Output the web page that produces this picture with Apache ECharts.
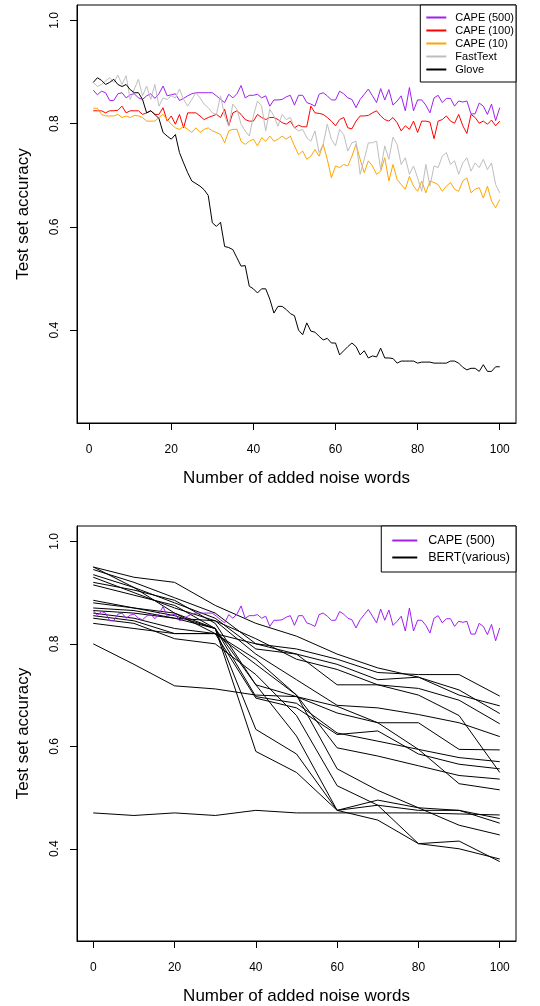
<!DOCTYPE html>
<html>
<head>
<meta charset="utf-8">
<title>Noise words vs accuracy</title>
<script src="https://cdn.jsdelivr.net/npm/echarts@6/dist/echarts.min.js"></script>
<style>
  html, body { margin: 0; padding: 0; background: #fff; }
  #chart { width: 540px; height: 1006px; }
</style>
</head>
<body>
<div id="chart"></div>
<script>
// ---- data ----
const xTicks = [0, 20, 40, 60, 80, 100];
const yTicks = [0.4, 0.6, 0.8, 1.0];
const bertNoise = [0, 10, 20, 30, 40, 50, 60, 70, 80, 90, 100];

const cape500 = [
  0.865,0.856,0.863,0.860,0.845,0.845,0.858,0.860,0.850,0.856,
  0.858,0.850,0.847,0.854,0.858,0.849,0.858,0.873,0.854,0.856,
  0.858,0.845,0.849,0.854,0.858,0.860,0.860,0.860,0.860,0.860,
  0.854,0.847,0.841,0.857,0.850,0.858,0.874,0.850,0.855,0.855,
  0.857,0.850,0.854,0.834,0.846,0.846,0.847,0.852,0.855,0.836,
  0.855,0.855,0.841,0.838,0.834,0.857,0.860,0.854,0.846,0.846,
  0.863,0.858,0.850,0.847,0.831,0.847,0.857,0.867,0.854,0.841,
  0.868,0.846,0.866,0.836,0.844,0.854,0.825,0.870,0.825,0.846,
  0.846,0.836,0.821,0.850,0.855,0.841,0.849,0.849,0.834,0.844,
  0.842,0.844,0.819,0.819,0.840,0.834,0.818,0.838,0.806,0.831
];
const cape100 = [
  0.825,0.825,0.825,0.821,0.825,0.825,0.826,0.834,0.821,0.825,
  0.825,0.825,0.818,0.821,0.825,0.818,0.818,0.831,0.805,0.815,
  0.799,0.818,0.792,0.821,0.821,0.821,0.815,0.808,0.812,0.815,
  0.818,0.812,0.828,0.796,0.821,0.825,0.818,0.808,0.805,0.805,
  0.818,0.812,0.808,0.812,0.812,0.808,0.802,0.799,0.805,0.792,
  0.797,0.794,0.794,0.834,0.821,0.820,0.818,0.812,0.805,0.796,
  0.808,0.812,0.792,0.790,0.805,0.815,0.815,0.816,0.821,0.825,
  0.815,0.808,0.805,0.812,0.802,0.786,0.796,0.789,0.805,0.783,
  0.805,0.805,0.803,0.771,0.805,0.808,0.815,0.805,0.801,0.818,
  0.796,0.781,0.818,0.812,0.801,0.805,0.799,0.807,0.796,0.805
];
const cape10 = [
  0.830,0.830,0.818,0.815,0.815,0.815,0.818,0.812,0.815,0.812,
  0.816,0.815,0.812,0.805,0.805,0.805,0.812,0.818,0.808,0.799,
  0.792,0.789,0.795,0.789,0.783,0.792,0.783,0.789,0.792,0.786,
  0.783,0.779,0.763,0.786,0.789,0.789,0.766,0.760,0.766,0.770,
  0.757,0.773,0.766,0.776,0.766,0.770,0.776,0.770,0.776,0.757,
  0.740,0.747,0.731,0.737,0.750,0.737,0.760,0.731,0.695,0.718,
  0.715,0.721,0.718,0.737,0.760,0.731,0.705,0.728,0.718,0.702,
  0.708,0.734,0.689,0.721,0.692,0.682,0.673,0.698,0.679,0.669,
  0.689,0.666,0.689,0.686,0.682,0.669,0.679,0.686,0.673,0.669,
  0.689,0.695,0.666,0.673,0.676,0.656,0.679,0.650,0.637,0.653
];
const fastText = [
  0.880,0.872,0.876,0.883,0.889,0.880,0.894,0.876,0.893,0.847,
  0.867,0.886,0.854,0.873,0.847,0.876,0.834,0.850,0.847,0.854,
  0.850,0.867,0.847,0.834,0.847,0.860,0.850,0.838,0.831,0.821,
  0.818,0.854,0.815,0.795,0.838,0.828,0.799,0.786,0.776,0.815,
  0.844,0.834,0.786,0.828,0.815,0.795,0.818,0.808,0.812,0.792,
  0.786,0.789,0.773,0.766,0.786,0.744,0.760,0.799,0.770,0.757,
  0.789,0.779,0.747,0.763,0.766,0.702,0.731,0.763,0.763,0.766,
  0.711,0.757,0.731,0.774,0.760,0.721,0.734,0.702,0.718,0.695,
  0.669,0.721,0.679,0.718,0.715,0.737,0.744,0.721,0.728,0.702,
  0.724,0.734,0.708,0.724,0.715,0.731,0.711,0.724,0.682,0.666
];
const glove = [
  0.880,0.889,0.884,0.876,0.880,0.886,0.876,0.872,0.876,0.866,
  0.860,0.860,0.847,0.821,0.825,0.818,0.810,0.783,0.776,0.770,
  0.779,0.744,0.724,0.705,0.689,0.684,0.679,0.672,0.661,0.608,
  0.601,0.609,0.562,0.560,0.556,0.540,0.524,0.525,0.485,0.480,
  0.472,0.480,0.480,0.460,0.433,0.446,0.446,0.440,0.432,0.428,
  0.400,0.391,0.414,0.398,0.396,0.388,0.381,0.384,0.375,0.375,
  0.352,0.360,0.368,0.375,0.368,0.352,0.360,0.346,0.350,0.348,
  0.365,0.346,0.346,0.345,0.336,0.340,0.340,0.340,0.340,0.336,
  0.338,0.338,0.338,0.336,0.336,0.336,0.336,0.340,0.340,0.336,
  0.328,0.323,0.326,0.326,0.320,0.333,0.320,0.320,0.329,0.329
];

// one run per BERT model, at bertNoise
const bertRuns = [
  [0.950,0.930,0.920,0.875,0.840,0.815,0.780,0.753,0.735,0.700,0.679],
  [0.945,0.920,0.890,0.860,0.800,0.790,0.770,0.744,0.740,0.740,0.698],
  [0.935,0.910,0.880,0.850,0.790,0.780,0.760,0.730,0.735,0.710,0.664],
  [0.930,0.900,0.870,0.845,0.780,0.730,0.680,0.675,0.662,0.646,0.619],
  [0.920,0.905,0.885,0.840,0.720,0.697,0.665,0.646,0.646,0.594,0.593],
  [0.915,0.895,0.875,0.830,0.697,0.684,0.626,0.610,0.594,0.578,0.570],
  [0.950,0.910,0.860,0.820,0.694,0.675,0.623,0.630,0.585,0.565,0.556],
  [0.885,0.870,0.860,0.830,0.633,0.585,0.475,0.485,0.410,0.415,0.375],
  [0.880,0.870,0.855,0.830,0.590,0.549,0.475,0.456,0.410,0.400,0.380],
  [0.865,0.860,0.850,0.830,0.720,0.620,0.475,0.495,0.480,0.475,0.450],
  [0.860,0.850,0.830,0.820,0.760,0.700,0.597,0.581,0.562,0.543,0.536],
  [0.855,0.845,0.820,0.820,0.770,0.700,0.556,0.514,0.480,0.446,0.427],
  [0.850,0.840,0.810,0.800,0.740,0.660,0.523,0.485,0.475,0.475,0.459],
  [0.840,0.830,0.820,0.820,0.800,0.780,0.720,0.720,0.713,0.690,0.644],
  [0.800,0.760,0.718,0.712,0.700,0.697,0.678,0.646,0.594,0.527,0.515],
  [0.470,0.465,0.470,0.465,0.475,0.470,0.470,0.470,0.470,0.468,0.466],
  [0.870,0.865,0.850,0.845,0.810,0.770,0.750,0.720,0.700,0.660,0.549]
];

// ---- build chart ----
const FONT = '"Liberation Sans", Arial, sans-serif';
const PURPLE = '#A020F0';

// top panel: 1..100 noise words; bottom CAPE run spread over 0..100
const topPairs = arr => arr.map((v, i) => [i + 1, v]);
const bottomPairs = arr => arr.map((v, i) => [i * 100 / (arr.length - 1), v]);

function xAxisFor(gridIndex, min, max) {
  return {
    gridIndex: gridIndex,
    type: 'value',
    min: min,
    max: max,
    name: 'Number of added noise words',
    nameLocation: 'middle',
    nameGap: 47,
    nameTextStyle: { fontFamily: FONT, fontSize: 17, color: '#000' },
    axisLine: { show: true, onZero: false, lineStyle: { color: '#000', width: 1 } },
    axisTick: { show: true, length: 7, customValues: xTicks, lineStyle: { color: '#000' } },
    axisLabel: { customValues: xTicks, margin: 21, fontFamily: FONT, fontSize: 12, color: '#000' },
    splitLine: { show: false }
  };
}

function yAxisFor(gridIndex) {
  return {
    gridIndex: gridIndex,
    type: 'value',
    min: 0.22,
    max: 1.03,
    name: 'Test set accuracy',
    nameLocation: 'middle',
    nameGap: 45,
    nameTextStyle: { fontFamily: FONT, fontSize: 17, color: '#000' },
    axisLine: { show: true, onZero: false, lineStyle: { color: '#000', width: 1 } },
    axisTick: { show: true, length: 7, customValues: yTicks, lineStyle: { color: '#000' } },
    axisLabel: {
      customValues: yTicks, rotate: 90, margin: 16,
      fontFamily: FONT, fontSize: 12, color: '#000',
      formatter: v => v.toFixed(1)
    },
    splitLine: { show: false }
  };
}

function line(name, data, color, xi) {
  return {
    name: name,
    type: 'line',
    xAxisIndex: xi,
    yAxisIndex: xi,
    data: data,
    showSymbol: false,
    symbol: 'none',
    lineStyle: { color: color, width: 1 },
    itemStyle: { color: color },
    emphasis: { disabled: true }
  };
}

const series = [
  line('CAPE (500)', topPairs(cape500), PURPLE, 0),
  line('CAPE (100)', topPairs(cape100), '#FF0000', 0),
  line('CAPE (10)', topPairs(cape10), '#FFA500', 0),
  line('FastText', topPairs(fastText), '#BEBEBE', 0),
  line('Glove', topPairs(glove), '#000000', 0)
];
bertRuns.forEach(run => {
  series.push(line('BERT(various)', run.map((v, i) => [bertNoise[i], v]), '#000000', 1));
});
series.push(line('CAPE (500) ', bottomPairs(cape500), PURPLE, 1));

const chart = echarts.init(document.getElementById('chart'), null, { renderer: 'canvas' });
chart.setOption({
  animation: false,
  backgroundColor: '#fff',
  textStyle: { fontFamily: FONT },
  grid: [
    { left: 77, top: 5, width: 439, height: 418, show: true, borderColor: '#000', borderWidth: 1, containLabel: false },
    { left: 77, top: 526, width: 439, height: 417, show: true, borderColor: '#000', borderWidth: 1, containLabel: false }
  ],
  xAxis: [xAxisFor(0, -2.96, 103.96), xAxisFor(1, -4, 104)],
  yAxis: [yAxisFor(0), yAxisFor(1)],
  legend: [
    {
      data: ['CAPE (500)', 'CAPE (100)', 'CAPE (10)', 'FastText', 'Glove'],
      orient: 'vertical',
      right: 24,
      top: 5,
      padding: [7, 2, 7, 6],
      itemGap: 2,
      itemWidth: 20,
      itemHeight: 2,
      icon: 'rect',
      backgroundColor: '#fff',
      borderColor: '#000',
      borderWidth: 1,
      selectedMode: false,
      textStyle: { fontFamily: FONT, fontSize: 11, lineHeight: 11, color: '#000', padding: [0, 0, 0, 4] }
    },
    {
      data: ['CAPE (500) ', 'BERT(various)'],
      orient: 'vertical',
      right: 24,
      top: 526,
      padding: [8, 6, 8, 11],
      itemGap: 4,
      itemWidth: 25,
      itemHeight: 2,
      icon: 'rect',
      backgroundColor: '#fff',
      borderColor: '#000',
      borderWidth: 1,
      selectedMode: false,
      formatter: n => n.trim(),
      textStyle: { fontFamily: FONT, fontSize: 12.5, lineHeight: 13, color: '#000', padding: [0, 0, 0, 6] }
    }
  ],
  series: series
});
</script>
</body>
</html>
